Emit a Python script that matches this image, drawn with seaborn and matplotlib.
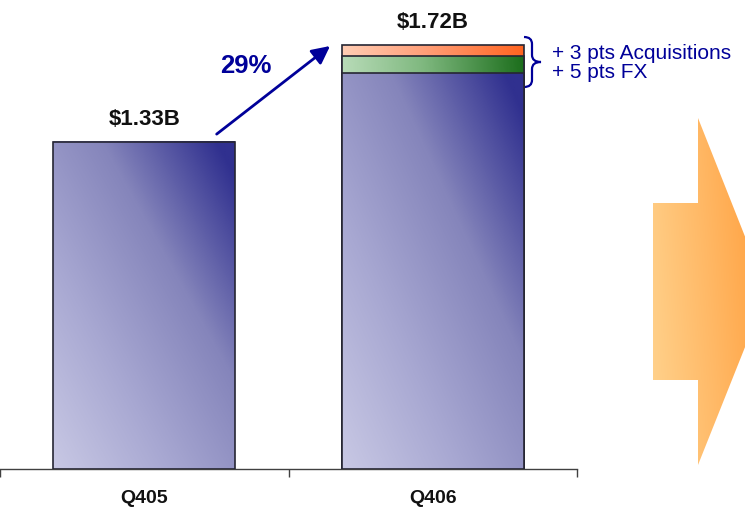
import numpy as np
import pandas as pd
import matplotlib
matplotlib.use("Agg")
import matplotlib.pyplot as plt
import seaborn as sns
from matplotlib.path import Path
from matplotlib.patches import PathPatch, Polygon
from matplotlib.colors import LinearSegmentedColormap

# ---- data ----
quarters = ["Q405", "Q406"]
base = [1.33, 1.609]          # organic revenue ($B)
fx = [0.0, 0.068]             # FX contribution ($B)
acq = [0.0, 0.046]            # acquisitions contribution ($B)
total_labels = [1.33, 1.72]
annot_texts = ["+ 3 pts Acquisitions", "+ 5 pts FX"]

sns.set_theme(style="white")
plt.rcParams["font.family"] = ["Liberation Sans", "DejaVu Sans"]

fig = plt.figure(figsize=(7.45, 5.14), dpi=100)
bot = (514 - 469) / 514
ax = fig.add_axes([0, bot, 577 / 745, 1 - bot])
ax.patch.set_visible(False)
ov = fig.add_axes([0, 0, 1, 1], zorder=-1)
ov.patch.set_visible(False)

df = pd.DataFrame({"quarter": quarters, "base": base, "fx": fx, "acq": acq})
df["lvl_fx"] = df["base"] + df["fx"]
df["lvl_acq"] = df["lvl_fx"] + df["acq"]

blue_cm = LinearSegmentedColormap.from_list("b", ["#c8c8e4", "#a8a8d2", "#8585bb", "#30308f"])
green_cm = LinearSegmentedColormap.from_list("g", ["#c6e4c6", "#7fb87f", "#1c6e1c"])
orange_cm = LinearSegmentedColormap.from_list("o", ["#ffd8c2", "#ffa07a", "#ff6420"])

EDGE = "#262633"
layers = [("lvl_acq", "acq", orange_cm, 2), ("lvl_fx", "fx", green_cm, 4), ("base", None, blue_cm, 6)]

n = 200
U, V = np.meshgrid(np.linspace(0, 1, n), np.linspace(0, 1, n))

for col, seg, cmap, z in layers:
    before = len(ax.patches)
    sns.barplot(data=df, x="quarter", y=col, order=quarters, width=0.63, ax=ax,
                color="white", edgecolor=EDGE, linewidth=1.2, errorbar=None)
    new = ax.patches[before:]
    for i, p in enumerate(new):
        if seg is not None and df[seg].iloc[i] == 0:
            p.remove()
            continue
        x0, y0, w, h = p.get_x(), p.get_y(), p.get_width(), p.get_height()
        if seg is None:
            T = np.clip((U + V) / 2 * 1.05, 0, 1)
        else:
            T = np.clip(0.9 * U + 0.1 * V, 0, 1)
        ax.imshow(T, cmap=cmap, vmin=0, vmax=1, extent=[x0, x0 + w, y0, y0 + h],
                  origin="lower", aspect="auto", clip_path=p, zorder=z,
                  interpolation="bilinear")
        p.set_facecolor("none")
        p.set_zorder(z + 0.5)

ax.set_xlabel("")
ax.set_ylabel("")
ax.set_xlim(-0.5, 1.5)
ax.set_ylim(0, 1.906)
ax.set_yticks([])
ax.set_xticks([-0.5, 0.5, 1.5])
ax.set_xticklabels([])
ax.set_xticks([0, 1], minor=True)
ax.set_xticklabels(quarters, minor=True, fontsize=14, fontweight="bold", color="#111111")
ax.tick_params(axis="x", which="major", length=6, width=1, color="#404040",
               direction="out", bottom=True)
ax.tick_params(axis="x", which="minor", length=0, pad=15, bottom=True)
for s in ["left", "top", "right"]:
    ax.spines[s].set_visible(False)
ax.spines["bottom"].set_color("#404040")
ax.spines["bottom"].set_linewidth(1)

# value labels
tops = df["lvl_acq"].tolist()
for i, v in enumerate(total_labels):
    ax.annotate(f"${v:.2f}B", xy=(i, tops[i]), xytext=(0, 12), textcoords="offset points",
                ha="center", va="baseline", fontsize=16, fontweight="bold", color="#111111")

# growth arrow
BLUE = "#000099"
pct = round((total_labels[1] / total_labels[0] - 1) * 100)
ax.annotate("", xy=(0.644, 1.719), xytext=(0.251, 1.361),
            arrowprops=dict(arrowstyle="-|>,head_length=0.9,head_width=0.45",
                            mutation_scale=12, color=BLUE, lw=2, shrinkA=0, shrinkB=0),
            zorder=10)
ax.text(0.353, 1.609, f"{pct}%", ha="center", va="baseline", fontsize=18.5,
        fontweight="bold", color=BLUE)

# annotation texts
ax.text(1.413, 1.665, annot_texts[0], ha="left", va="baseline", fontsize=15, color=BLUE)
ax.text(1.413, 1.590, annot_texts[1], ha="left", va="baseline", fontsize=15, color=BLUE)

# brace (pixel coords on overlay)
x0, xm, x1 = 524, 532, 541
y0, ym, y1 = 37, 62, 87
r = 7
verts = [(x0, y0), (xm, y0), (xm, y0 + r),
         (xm, ym - r), (xm, ym), (x1, ym),
         (xm, ym), (xm, ym + r),
         (xm, y1 - r), (xm, y1), (x0, y1)]
codes = [Path.MOVETO, Path.CURVE3, Path.CURVE3,
         Path.LINETO, Path.CURVE3, Path.CURVE3,
         Path.CURVE3, Path.CURVE3,
         Path.LINETO, Path.CURVE3, Path.CURVE3]
ov.add_patch(PathPatch(Path(verts, codes), fill=False, edgecolor=BLUE, lw=1.6))

# big orange arrow
arrow_pts = [(653, 203), (698, 203), (698, 118), (767, 292), (698, 465), (698, 380), (653, 380)]
poly = Polygon(arrow_pts, closed=True, facecolor="none", edgecolor="none")
ov.add_patch(poly)
orange2 = LinearSegmentedColormap.from_list("o2", ["#ffd38e", "#ffb865", "#ff9c38"])
Ta = np.clip(0.8 * U + 0.2 * V, 0, 1)
ov.imshow(Ta, cmap=orange2, vmin=0, vmax=1, extent=[653, 767, 465, 118], origin="lower",
          aspect="auto", clip_path=poly, interpolation="bilinear")
ov.set_xlim(0, 745)
ov.set_ylim(514, 0)
ov.axis("off")

fig.savefig("out.png", dpi=100)
